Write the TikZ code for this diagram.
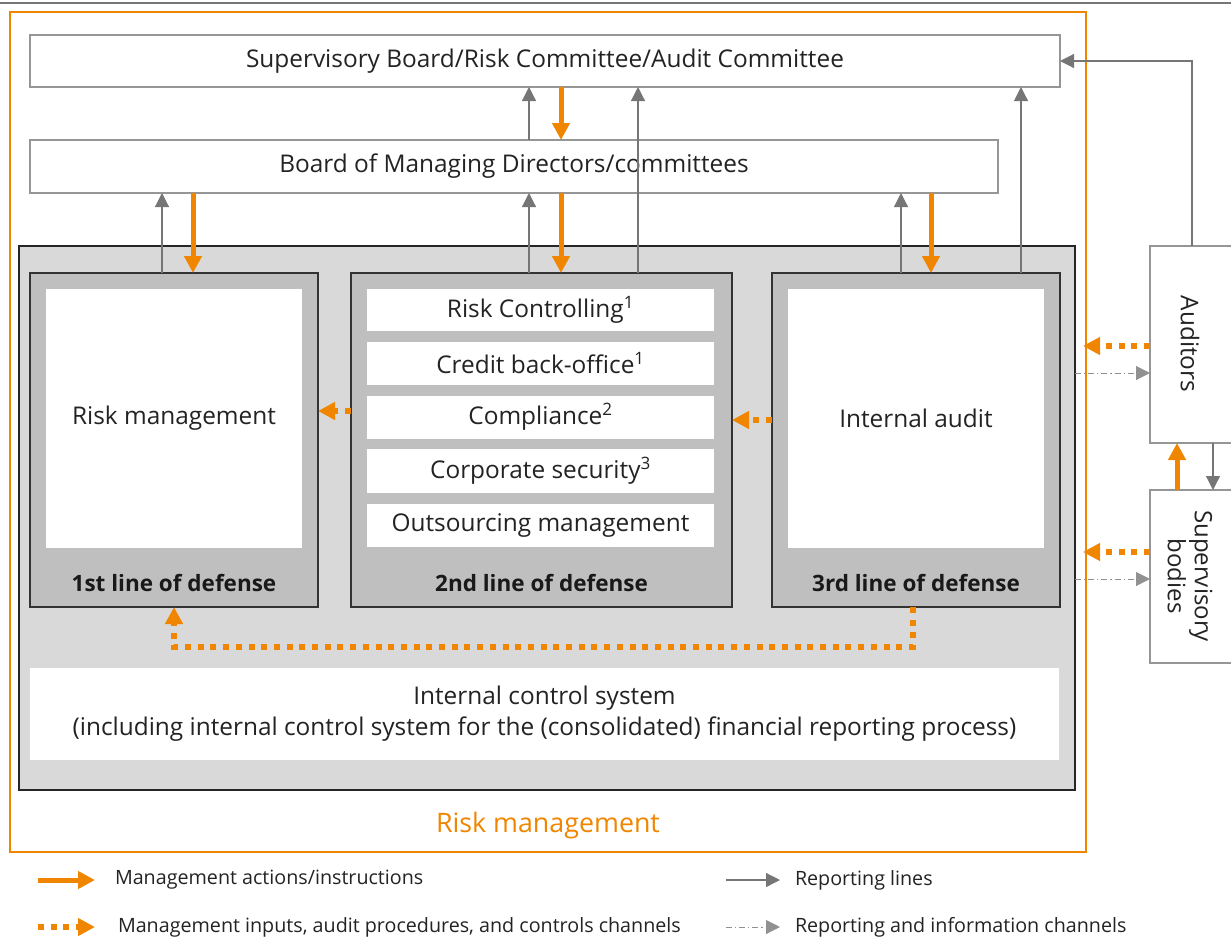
\documentclass[tikz,border=0pt]{standalone}
\usepackage{fontspec}
\setmainfont{Open Sans}
\usetikzlibrary{arrows.meta,calc}
\definecolor{org}{RGB}{240,134,0}
\definecolor{gline}{RGB}{118,118,118}
\definecolor{boxline}{RGB}{150,150,150}
\definecolor{cfill}{RGB}{217,217,217}
\definecolor{lfill}{RGB}{191,191,191}
\definecolor{txt}{RGB}{35,35,35}
\begin{document}
\begin{tikzpicture}[x=1pt,y=-1pt,
  every node/.style={inner sep=0pt, outer sep=0pt, text=txt},
  wbox/.style={draw=boxline, line width=1.2pt, fill=white, font=\fontsize{24.4}{28}\selectfont},
  ibox/.style={fill=white, font=\fontsize{24.4}{31}\selectfont},
  lbox/.style={draw=black!80, line width=1.2pt, fill=lfill},
  lbl/.style={font=\fontsize{22.5}{26}\selectfont\bfseries, text=black!90},
  rep/.style={draw=gline, line width=1.2pt, -{Triangle[width=14pt,length=14pt]}},
  info/.style={draw=gline!80, line width=1pt, dash pattern=on 6pt off 3pt on 1.2pt off 3pt, -{Triangle[width=14pt,length=14pt]}},
  act/.style={draw=org, line width=5pt, -{Triangle[width=17pt,length=17pt]}},
  inp/.style={draw=org, line width=6pt, dash pattern=on 6pt off 6.7pt, -{Triangle[width=17pt,length=17pt]}},
  leg/.style={font=\fontsize{19.7}{23}\selectfont, anchor=west}]
\useasboundingbox (0,0) rectangle (1231,940);
% top rule
\coordinate (tl) at (0,3); \coordinate (tr) at (1231,3);
\draw[gline, line width=2.5pt] (tl) -- (tr);
% outer orange frame
\node[draw=org, line width=1.2pt, minimum width=1076pt, minimum height=840pt] (rm) at (548,432) {};
\node[text=org, font=\fontsize{26.8}{30}\selectfont] (rmt) at (548,826) {Risk management};
% top boxes
\node[wbox, minimum width=1030pt, minimum height=52pt] (sb) at (545,61) {Supervisory Board/Risk Committee/Audit Committee};
\node[wbox, minimum width=968pt, minimum height=53pt] (bmd) at (514,166.5) {Board of Managing Directors/committees};
% container
\node[draw=black!85, line width=1.2pt, fill=cfill, minimum width=1056pt, minimum height=544pt] (cont) at (547,518) {};
% lines of defense
\node[lbox, minimum width=288pt, minimum height=334pt] (l1) at (174,440) {};
\node[lbox, minimum width=381pt, minimum height=334pt] (l2) at (541.5,440) {};
\node[lbox, minimum width=288pt, minimum height=334pt] (l3) at (916,440) {};
\node[ibox, minimum width=256pt, minimum height=259pt] (rmg) at (174,418.5) {Risk management};
\node[ibox, minimum width=256pt, minimum height=259pt] (ia) at (916,418.5) {Internal audit};
\node[ibox, minimum width=347pt, minimum height=42pt] (rc) at (540.5,310) {Risk Controlling\textsuperscript{1}};
\node[ibox, minimum width=347pt, minimum height=43pt] (cb) at (540.5,363) {Credit back-office\textsuperscript{1}};
\node[ibox, minimum width=347pt, minimum height=43pt] (co) at (540.5,417) {Compliance\textsuperscript{2}};
\node[ibox, minimum width=347pt, minimum height=44pt] (cs) at (540.5,471) {Corporate security\textsuperscript{3}};
\node[ibox, minimum width=347pt, minimum height=43pt] (om) at (540.5,525.5) {Outsourcing management};
\node[lbl] (l1t) at (174,583) {1st line of defense};
\node[lbl] (l2t) at (541.5,583) {2nd line of defense};
\node[lbl] (l3t) at (916,583) {3rd line of defense};
% internal control system
\node[ibox, minimum width=1029pt, minimum height=92pt, align=center] (ics) at (544.5,714)
  {Internal control system\\(including internal control system for the (consolidated) financial reporting process)};
% auditors / supervisory bodies
\node[wbox, minimum width=90pt, minimum height=197pt] (aud) at (1195,344.5) {};
\node[rotate=-90, font=\fontsize{24.4}{28}\selectfont] (audt) at (1190,344) {Auditors};
\node[wbox, minimum width=90pt, minimum height=173pt] (sup) at (1195,576.5) {};
\node[rotate=-90, font=\fontsize{24}{27}\selectfont, align=center] (supt) at (1190,576) {Supervisory\\bodies};
% x positions
\coordinate (xa) at (162,0); \coordinate (xb) at (193,0);
\coordinate (xc) at (529,0); \coordinate (xd) at (561,0); \coordinate (xe) at (638,0);
\coordinate (xf) at (901,0); \coordinate (xg) at (931,0); \coordinate (xh) at (1021,0);
\coordinate (xi) at (1177,0); \coordinate (xj) at (1213,0); \coordinate (xk) at (1192,0);
% reporting lines / actions
\draw[rep] (l1.north -| xa) -- (bmd.south -| xa);
\draw[act] (bmd.south -| xb) -- (l1.north -| xb);
\draw[rep] (l2.north -| xc) -- (bmd.south -| xc);
\draw[act] (bmd.south -| xd) -- (l2.north -| xd);
\draw[rep] (bmd.north -| xc) -- (sb.south -| xc);
\draw[act] (sb.south -| xd) -- (bmd.north -| xd);
\draw[rep] (l2.north -| xe) -- (sb.south -| xe);
\draw[rep] (l3.north -| xf) -- (bmd.south -| xf);
\draw[act] (bmd.south -| xg) -- (l3.north -| xg);
\draw[rep] (l3.north -| xh) -- (sb.south -| xh);
\draw[rep] (aud.north -| xk) |- (sb.east);
\draw[act] (sup.north -| xi) -- (aud.south -| xi);
\draw[rep] (aud.south -| xj) -- (sup.north -| xj);
% inputs
\coordinate (ya) at (0,411); \coordinate (yb) at (0,420);
\draw[inp] (l2.west |- ya) -- (l1.east |- ya);
\draw[inp] (l3.west |- yb) -- (l2.east |- yb);
\coordinate (yc) at (0,647); \coordinate (x3) at (913,0); \coordinate (x1) at (174,0);
\draw[inp] (l3.south -| x3) -- (x3 |- yc) -- (x1 |- yc) -- (l1.south -| x1);
\coordinate (ye) at (0,346); \coordinate (yf) at (0,373);
\coordinate (yg) at (0,552); \coordinate (yh) at (0,579);
\coordinate (xt) at (1083,0);
\draw[inp] (aud.west |- ye) -- (xt |- ye);
\draw[info] (cont.east |- yf) -- (aud.west |- yf);
\draw[inp] (sup.west |- yg) -- (xt |- yg);
\draw[info] (cont.east |- yh) -- (sup.west |- yh);
% legend
\coordinate (la1) at (38,880); \coordinate (la2) at (95,880);
\coordinate (lb1) at (38,927); \coordinate (lb2) at (95,927);
\coordinate (lc1) at (726,880); \coordinate (lc2) at (780,880);
\coordinate (ld1) at (726,927); \coordinate (ld2) at (780,927);
\draw[act] (la1) -- (la2);
\draw[inp] (lb1) -- (lb2);
\draw[rep] (lc1) -- (lc2);
\draw[info] (ld1) -- (ld2);
\node[leg] (lat) at (115,880) {Management actions/instructions};
\node[leg] (lbt) at (118,927) {Management inputs, audit procedures, and controls channels};
\node[leg] (lct) at (795,880) {Reporting lines};
\node[leg] (ldt) at (795,927) {Reporting and information channels};
\end{tikzpicture}
\end{document}
